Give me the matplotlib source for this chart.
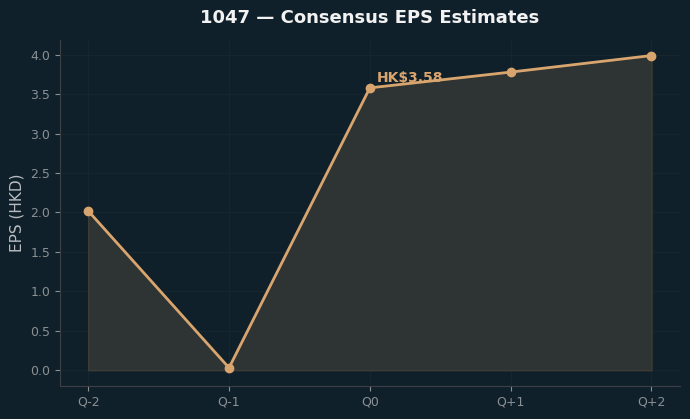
import numpy as np
import matplotlib
matplotlib.use("Agg")
from matplotlib import pyplot as plt

quarters = ["Q-2", "Q-1", "Q0", "Q+1", "Q+2"]
eps = [2.02, 0.03, 3.58, 3.78, 3.99]
label_idx = 2
label_text = "HK$3.58"

bg = "#10202a"
accent = "#d9a56e"

fig = plt.figure(figsize=(6.9, 4.19), dpi=100)
fig.patch.set_facecolor(bg)
ax = fig.add_subplot(1, 1, 1)
ax.set_facecolor(bg)

x = np.arange(len(quarters))
ax.fill_between(x, eps, 0, facecolor="#2e3333", edgecolor="#3d3d35", linewidth=1, zorder=1)
ax.plot(x, eps, "o-", color=accent, linewidth=2, markersize=6, zorder=3)

ax.annotate(label_text, (x[label_idx], eps[label_idx]), xytext=(5, 4),
            textcoords="offset points", color=accent, fontsize=10,
            fontweight="bold", zorder=4)

ax.set_xticks(x)
ax.set_xticklabels(quarters)
ax.set_ylabel("EPS (HKD)", color="#b8bcc0", fontsize=11)
ax.set_title("1047 — Consensus EPS Estimates", color="#f2f2f2",
             fontsize=13, fontweight="bold", pad=12)

ax.grid(True, color="#16252e", linewidth=0.8)
ax.set_axisbelow(True)
for s in ("top", "right"):
    ax.spines[s].set_visible(False)
for s in ("left", "bottom"):
    ax.spines[s].set_color("#3a4044")
ax.tick_params(colors="#8a9094", labelsize=9)

fig.subplots_adjust(left=0.087, right=0.985, top=0.905, bottom=0.079)
fig.savefig("out.png", facecolor=bg)
